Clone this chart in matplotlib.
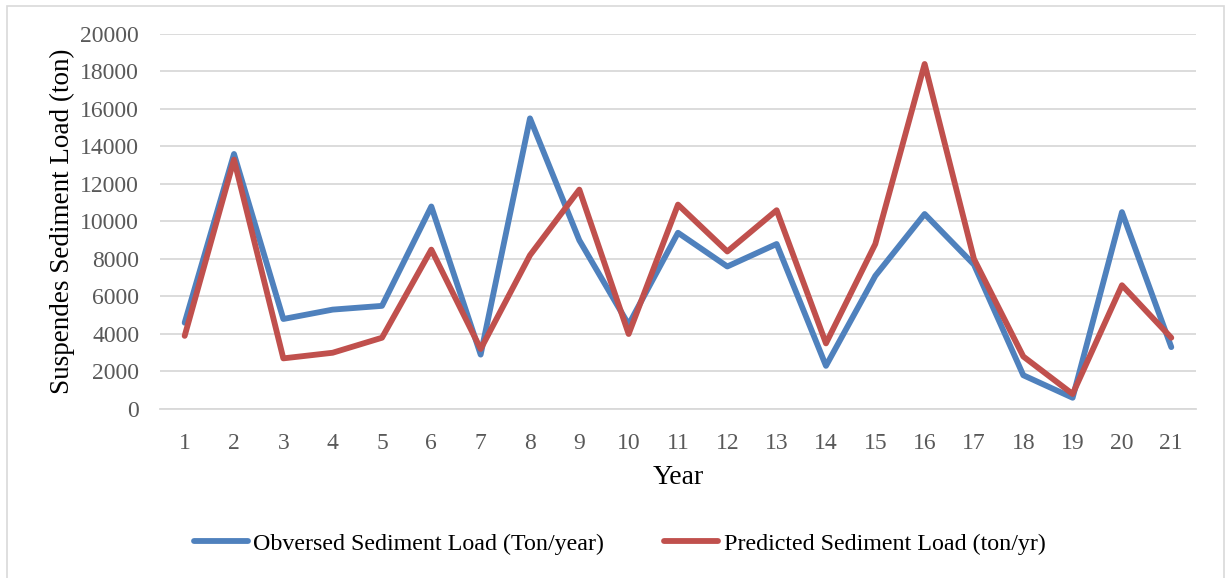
import matplotlib.pyplot as plt
from matplotlib.patches import Rectangle

years = list(range(1, 22))
observed = [4600, 13600, 4800, 5300, 5500, 10800, 2900, 15500, 9000, 4500, 9400,
            7600, 8800, 2300, 7100, 10400, 7700, 1800, 600, 10500, 3300]
predicted = [3900, 13300, 2700, 3000, 3800, 8500, 3200, 8200, 11700, 4000, 10900,
             8400, 10600, 3500, 8800, 18400, 8000, 2800, 800, 6600, 3800]
y_ticks = list(range(0, 20001, 2000))

plt.rcParams["font.family"] = ["Liberation Serif", "DejaVu Serif"]

fig = plt.figure(figsize=(12.27, 5.78), dpi=100)
ax = fig.add_axes([0.1304, 0.2924, 0.8443, 0.6488])

ax.plot(years, observed, color="#4F81BD", lw=4.2, solid_capstyle="round",
        label="Obversed Sediment Load (Ton/year)")
ax.plot(years, predicted, color="#C0504D", lw=4.2, solid_capstyle="round",
        label="Predicted Sediment Load (ton/yr)")

ax.set_xlim(0.5, 21.5)
ax.set_ylim(0, 20000)
ax.set_xticks(years)
ax.set_yticks(y_ticks)
ax.tick_params(length=0, labelsize=17, labelcolor="#595959")
ax.tick_params(axis="y", pad=15)
ax.tick_params(axis="x", pad=17)
ax.grid(axis="y", color="#D9D9D9", lw=1.3)
ax.set_axisbelow(True)
for side in ["top", "right", "left"]:
    ax.spines[side].set_visible(False)
ax.spines["bottom"].set_color("#D9D9D9")
ax.spines["bottom"].set_linewidth(1.3)

ax.set_ylabel("Suspendes Sediment Load (ton)", fontsize=19.5, labelpad=4)
ax.set_xlabel("Year", fontsize=20, labelpad=8)

fig.legend(loc="center", bbox_to_anchor=(0.505, 0.059), ncol=2, frameon=False,
           fontsize=17.3, handlelength=2.25, handletextpad=0.22, columnspacing=2.5)

# thin chart-area border
fig.patches.append(Rectangle((7 / 1227, -0.01), 1217 / 1227, 1 - 6 / 578 + 0.01,
                             transform=fig.transFigure, fill=False,
                             edgecolor="#D9D9D9", lw=1.2))

fig.savefig("out.png", dpi=100)
